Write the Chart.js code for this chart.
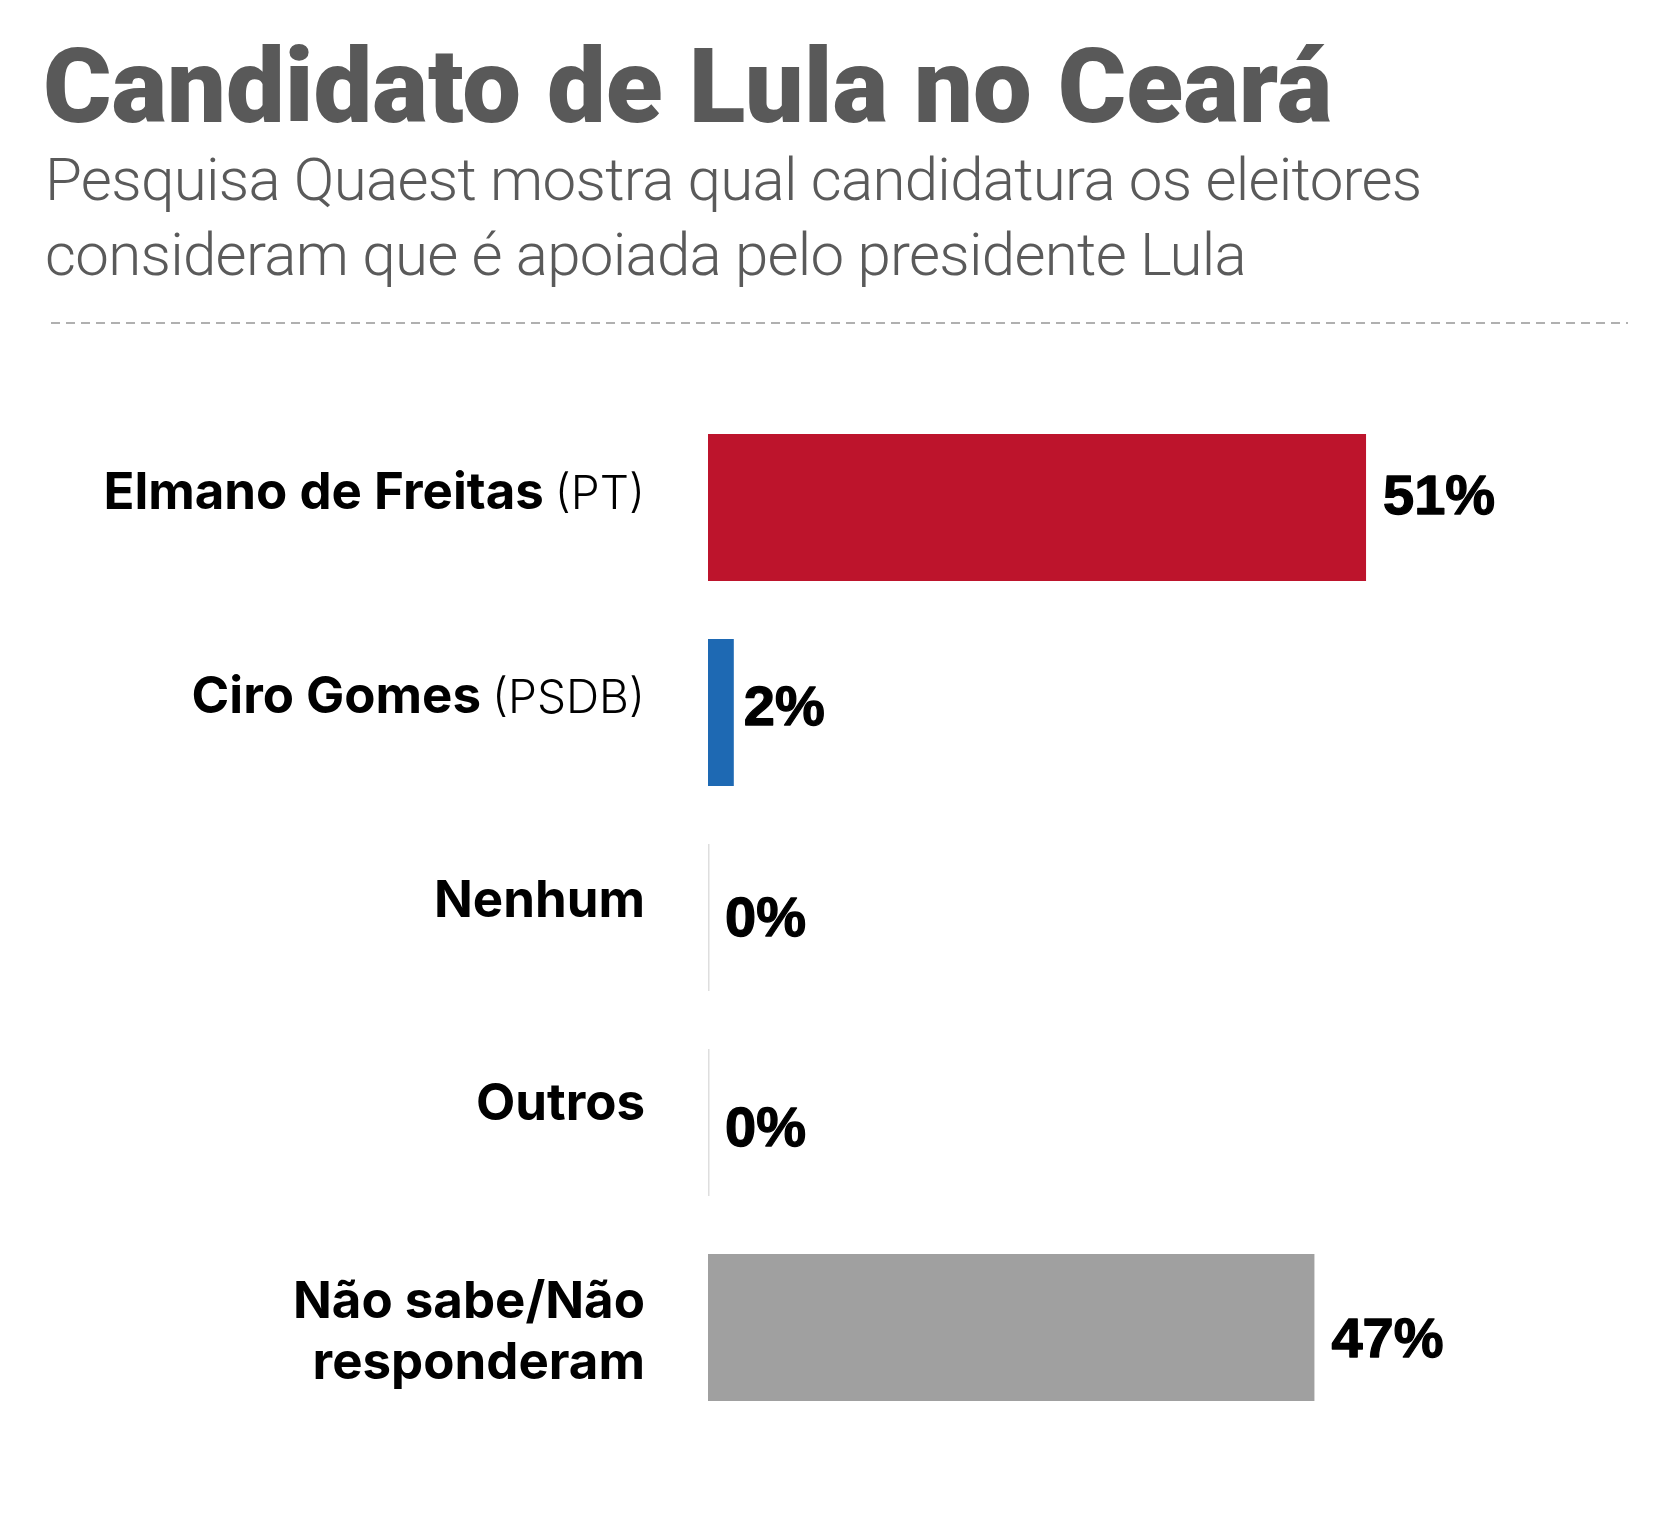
<!DOCTYPE html>
<html>
<head>
<meta charset="utf-8">
<script src="https://cdn.jsdelivr.net/npm/chart.js@4.4.1/dist/chart.umd.min.js"></script>
<style>
  html, body { margin: 0; padding: 0; background: #fff; }
  body { width: 1667px; height: 1517px; position: relative; overflow: hidden; }
  #title { position: absolute; left: 43px; top: 35px; margin: 0; font-family: Roboto, sans-serif; font-weight: 900; font-size: 104.5px; line-height: 104.5px; color: #595959; white-space: nowrap; }
  #subtitle { position: absolute; left: 45px; top: 142px; margin: 0; font-family: Roboto, sans-serif; font-weight: 300; font-size: 60px; line-height: 75px; letter-spacing: -0.7px; color: #5a5a5a; white-space: nowrap; }
  #rule { position: absolute; left: 51px; top: 322px; width: 1577px; height: 2px;
    background: repeating-linear-gradient(to right, #b0b0b0 0 9px, transparent 9px 15px); }
  #wrap { position: absolute; left: 0; top: 0; width: 1667px; height: 1517px; }
</style>
</head>
<body>
<div id="wrap"><canvas id="c" width="1667" height="1517"></canvas></div>
<h1 id="title">Candidato de Lula no Ceará</h1>
<p id="subtitle">Pesquisa Quaest mostra qual candidatura os eleitores<br>consideram que é apoiada pelo presidente Lula</p>
<div id="rule"></div>
<script>
// ---- data ----
const categories = ['Elmano de Freitas', 'Ciro Gomes', 'Nenhum', 'Outros', ['Não sabe/Não', 'responderam']];
const parties = ['(PT)', '(PSDB)', '', '', ''];
const values = [51, 2, 0, 0, 47];
const valueSuffix = '%';

// ---- styles ----
const barColors = ['#bd142c', '#1e69b3', '#a0a0a0', '#a0a0a0', '#a0a0a0'];
const LABEL_FONT = 'Inter, "Noto Sans", sans-serif';
const VALUE_FONT = '"Liberation Sans", Arial, sans-serif';

const labelsPlugin = {
  id: 'customLabels',
  beforeDatasetsDraw(chart) {
    const ctx = chart.ctx;
    const meta = chart.getDatasetMeta(0);
    ctx.save();
    ctx.strokeStyle = '#dedede';
    ctx.lineWidth = 1.5;
    meta.data.forEach((bar) => {
      const h = bar.height;
      ctx.beginPath();
      ctx.moveTo(bar.base + 0.75, bar.y - h / 2);
      ctx.lineTo(bar.base + 0.75, bar.y + h / 2);
      ctx.stroke();
    });
    ctx.restore();
  },
  afterDatasetsDraw(chart) {
    const ctx = chart.ctx;
    const yScale = chart.scales.y;
    const meta = chart.getDatasetMeta(0);
    const rightX = 645;
    const n = categories.length;
    ctx.save();
    ctx.fillStyle = '#000';
    ctx.strokeStyle = '#000';
    ctx.textBaseline = 'alphabetic';
    // category labels
    categories.forEach((cat, i) => {
      const cy = yScale.getPixelForValue(i);
      const size = 51;
      const cap = 0.727 * size;
      const lines = Array.isArray(cat) ? cat : [cat];
      const lh = 61;
      const shift = lines.length > 1 ? 2 : -17 - i * 1.2;
      const startBase = cy + shift + cap / 2 - (lines.length - 1) * lh / 2;
      lines.forEach((line, li) => {
        const base = startBase + li * lh;
        let x = rightX;
        ctx.textAlign = 'right';
        if (li === lines.length - 1 && parties[i]) {
          ctx.font = `300 46px ${LABEL_FONT}`;
          ctx.fillText(parties[i], x, base);
          x -= ctx.measureText(parties[i]).width + 11;
        }
        ctx.font = `700 ${size}px ${LABEL_FONT}`;
        ctx.fillText(line, x, base);
      });
    });
    // value labels
    meta.data.forEach((bar, i) => {
      const size = 56;
      const cap = 0.716 * size;
      const drift = (i - (n - 1) / 2) * 5.8;
      const tx = bar.x + (bar.width > 40 || bar.width < 1 ? 17 : 10);
      const ty = bar.y + cap / 2 - 2 + drift;
      const txt = values[i] + valueSuffix;
      ctx.font = `700 ${size}px ${VALUE_FONT}`;
      ctx.textAlign = 'left';
      ctx.lineWidth = 1.3;
      ctx.lineJoin = 'round';
      ctx.fillText(txt, tx, ty);
      ctx.strokeText(txt, tx, ty);
    });
    ctx.restore();
  }
};

function draw() {
  new Chart(document.getElementById('c'), {
    type: 'bar',
    data: {
      labels: categories,
      datasets: [{
        data: values,
        backgroundColor: barColors,
        borderWidth: 0,
        barPercentage: 0.717,
        categoryPercentage: 1.0
      }]
    },
    options: {
      indexAxis: 'y',
      responsive: false,
      animation: false,
      devicePixelRatio: 1,
      layout: { padding: { left: 708, right: 30, top: 405, bottom: 87 } },
      scales: {
        x: { display: false, min: 0, max: 72 },
        y: { display: false }
      },
      plugins: {
        legend: { display: false },
        tooltip: { enabled: false }
      }
    },
    plugins: [labelsPlugin]
  });
}

Promise.all([
  document.fonts.load('700 51px Inter'),
  document.fonts.load('300 46px Inter'),
  document.fonts.load('700 56px "Liberation Sans"'),
  document.fonts.load('900 104px Roboto'),
  document.fonts.load('300 60px Roboto')
]).then(draw, draw);
</script>
</body>
</html>
